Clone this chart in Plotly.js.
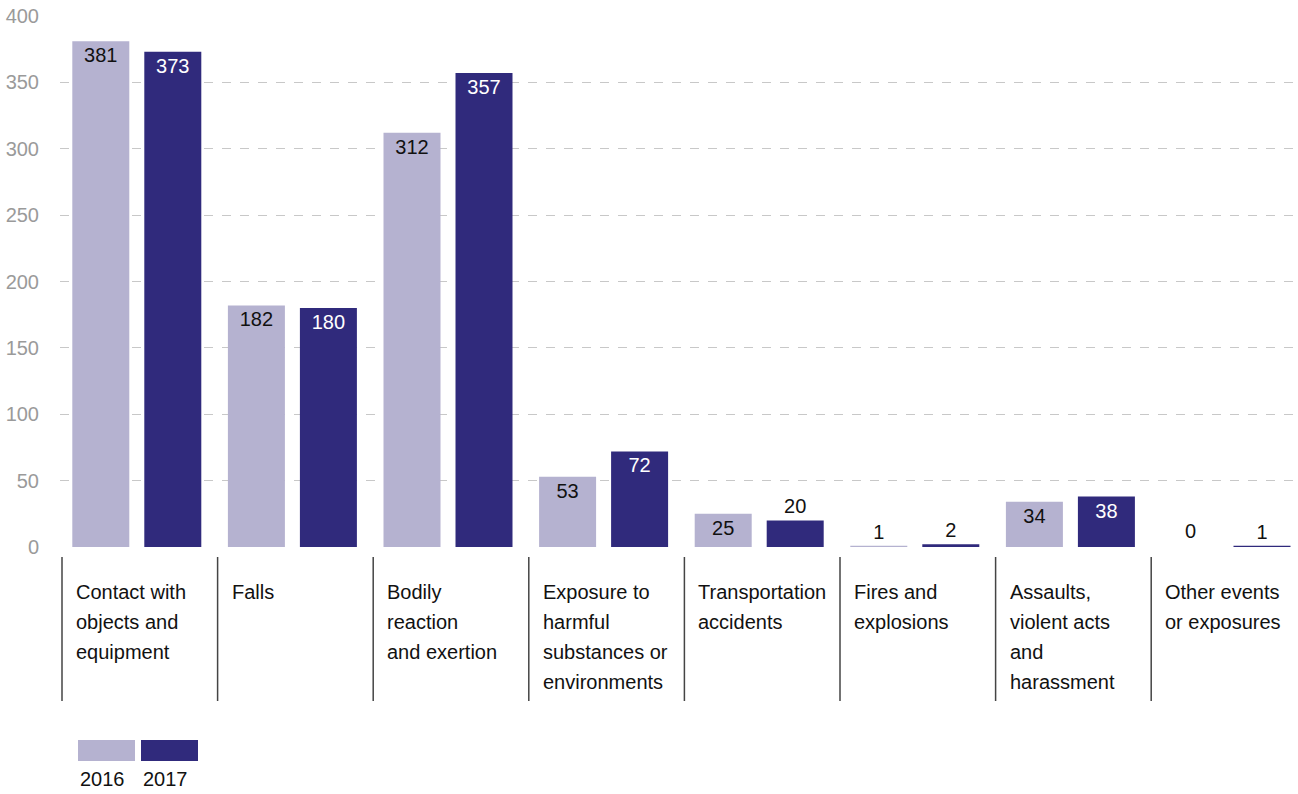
<!DOCTYPE html>
<html>
<head>
<meta charset="utf-8">
<script src="https://cdn.plot.ly/plotly-3.0.1.min.js"></script>
<style>html,body{margin:0;padding:0;background:#fff;}#chart{width:1298px;height:794px;}</style>
</head>
<body>
<div id="chart"></div>
<script>
const categories = [
  "Contact with<br>objects and<br>equipment",
  "Falls",
  "Bodily<br>reaction<br>and exertion",
  "Exposure to<br>harmful<br>substances or<br>environments",
  "Transportation<br>accidents",
  "Fires and<br>explosions",
  "Assaults,<br>violent acts<br>and<br>harassment",
  "Other events<br>or exposures"
];
const years = ["2016", "2017"];
const values2016 = [381, 182, 312, 53, 25, 1, 34, 0];
const values2017 = [373, 180, 357, 72, 20, 2, 38, 1];
const yTicks = [0, 50, 100, 150, 200, 250, 300, 350, 400];

const FONT = "'Liberation Sans Narrow', 'Arial Narrow', 'Liberation Sans', Arial, sans-serif";
const FS = 20;
const C16 = "#b5b2d0", C17 = "#302a7c";
const TXT = "#111111";
const idx = categories.map((_, i) => i);

// layout geometry (pixels)
const W = 1298, H = 794, ML = 60, MR = 3, MT = 16, MB = 247;
const plotW = W - ML - MR, plotH = H - MT - MB;
const catPx = 155.6;
const xStart = -0.5 - 2 / catPx;
const xEnd = xStart + plotW / catPx;
const px2paperX = p => (p - ML) / plotW;
const px2paperY = p => (H - MB - p) / plotH;

const barW = 57 / catPx;
const offsets = [-67.5 / catPx, 4.5 / catPx];
const seriesVals = [values2016, values2017];
const colors = [C16, C17];
const insideColors = [TXT, "#ffffff"];

const traces = seriesVals.map((vals, k) => ({
  type: "bar", name: years[k], x: idx, y: vals, width: barW, offset: offsets[k],
  marker: {color: colors[k]}, text: vals.map(String), textposition: "auto",
  insidetextanchor: "end", textangle: 0, cliponaxis: false,
  insidetextfont: {family: FONT, size: FS, color: insideColors[k]},
  outsidetextfont: {family: FONT, size: FS, color: TXT}
}));

const shapes = [];
const annotations = [];
// zero-valued bars: plotly draws no text for them, so label them explicitly
seriesVals.forEach((vals, k) => {
  vals.forEach((v, i) => {
    if (v === 0) {
      annotations.push({xref: "x", yref: "y", x: i + offsets[k] + barW / 2, y: v,
        xanchor: "center", yanchor: "bottom", yshift: 3, showarrow: false, text: String(v),
        font: {family: FONT, size: FS, color: TXT}});
    }
  });
});
idx.forEach(i => {
  shapes.push({type: "line", xref: "x", yref: "paper", x0: i - 0.5, x1: i - 0.5,
    y0: px2paperY(701), y1: px2paperY(557), line: {color: "#444", width: 1.5}});
  categories[i].split("<br>").forEach((line, j) => {
    annotations.push({xref: "x", yref: "paper", x: i - 0.5, y: px2paperY(592),
      xanchor: "left", yanchor: "middle", xshift: 12, yshift: -30 * j, align: "left",
      showarrow: false, text: line, font: {family: FONT, size: FS, color: TXT}});
  });
});
// legend
const legendX = [[78, 135], [141, 198]];
years.forEach((yr, k) => {
  shapes.push({type: "rect", xref: "paper", yref: "paper",
    x0: px2paperX(legendX[k][0]), x1: px2paperX(legendX[k][1]),
    y0: px2paperY(761), y1: px2paperY(740), line: {width: 0}, fillcolor: colors[k]});
  annotations.push({xref: "paper", yref: "paper",
    x: px2paperX(legendX[k][0] + 24), y: px2paperY(779),
    xanchor: "center", yanchor: "middle", showarrow: false, text: yr,
    font: {family: FONT, size: FS, color: TXT}});
});

const layout = {
  width: W, height: H,
  margin: {l: ML, r: MR, t: MT, b: MB, pad: 0},
  paper_bgcolor: "#fff", plot_bgcolor: "#fff",
  showlegend: false, hovermode: false,
  barmode: "group",
  xaxis: {range: [xStart, xEnd], showticklabels: false, showgrid: false, zeroline: false,
    showline: false, ticks: "", fixedrange: true},
  yaxis: {range: [0, 400], tickvals: yTicks, ticktext: yTicks.map(String),
    showgrid: true, gridcolor: "#c8c8c8", griddash: "dash", gridwidth: 1,
    zeroline: false, showline: false, ticks: "", ticklabelstandoff: 20,
    tickfont: {family: FONT, size: FS, color: "#9a9a9a"}, fixedrange: true},
  shapes: shapes,
  annotations: annotations
};

Plotly.newPlot("chart", traces, layout, {displayModeBar: false, staticPlot: true});
</script>
</body>
</html>
